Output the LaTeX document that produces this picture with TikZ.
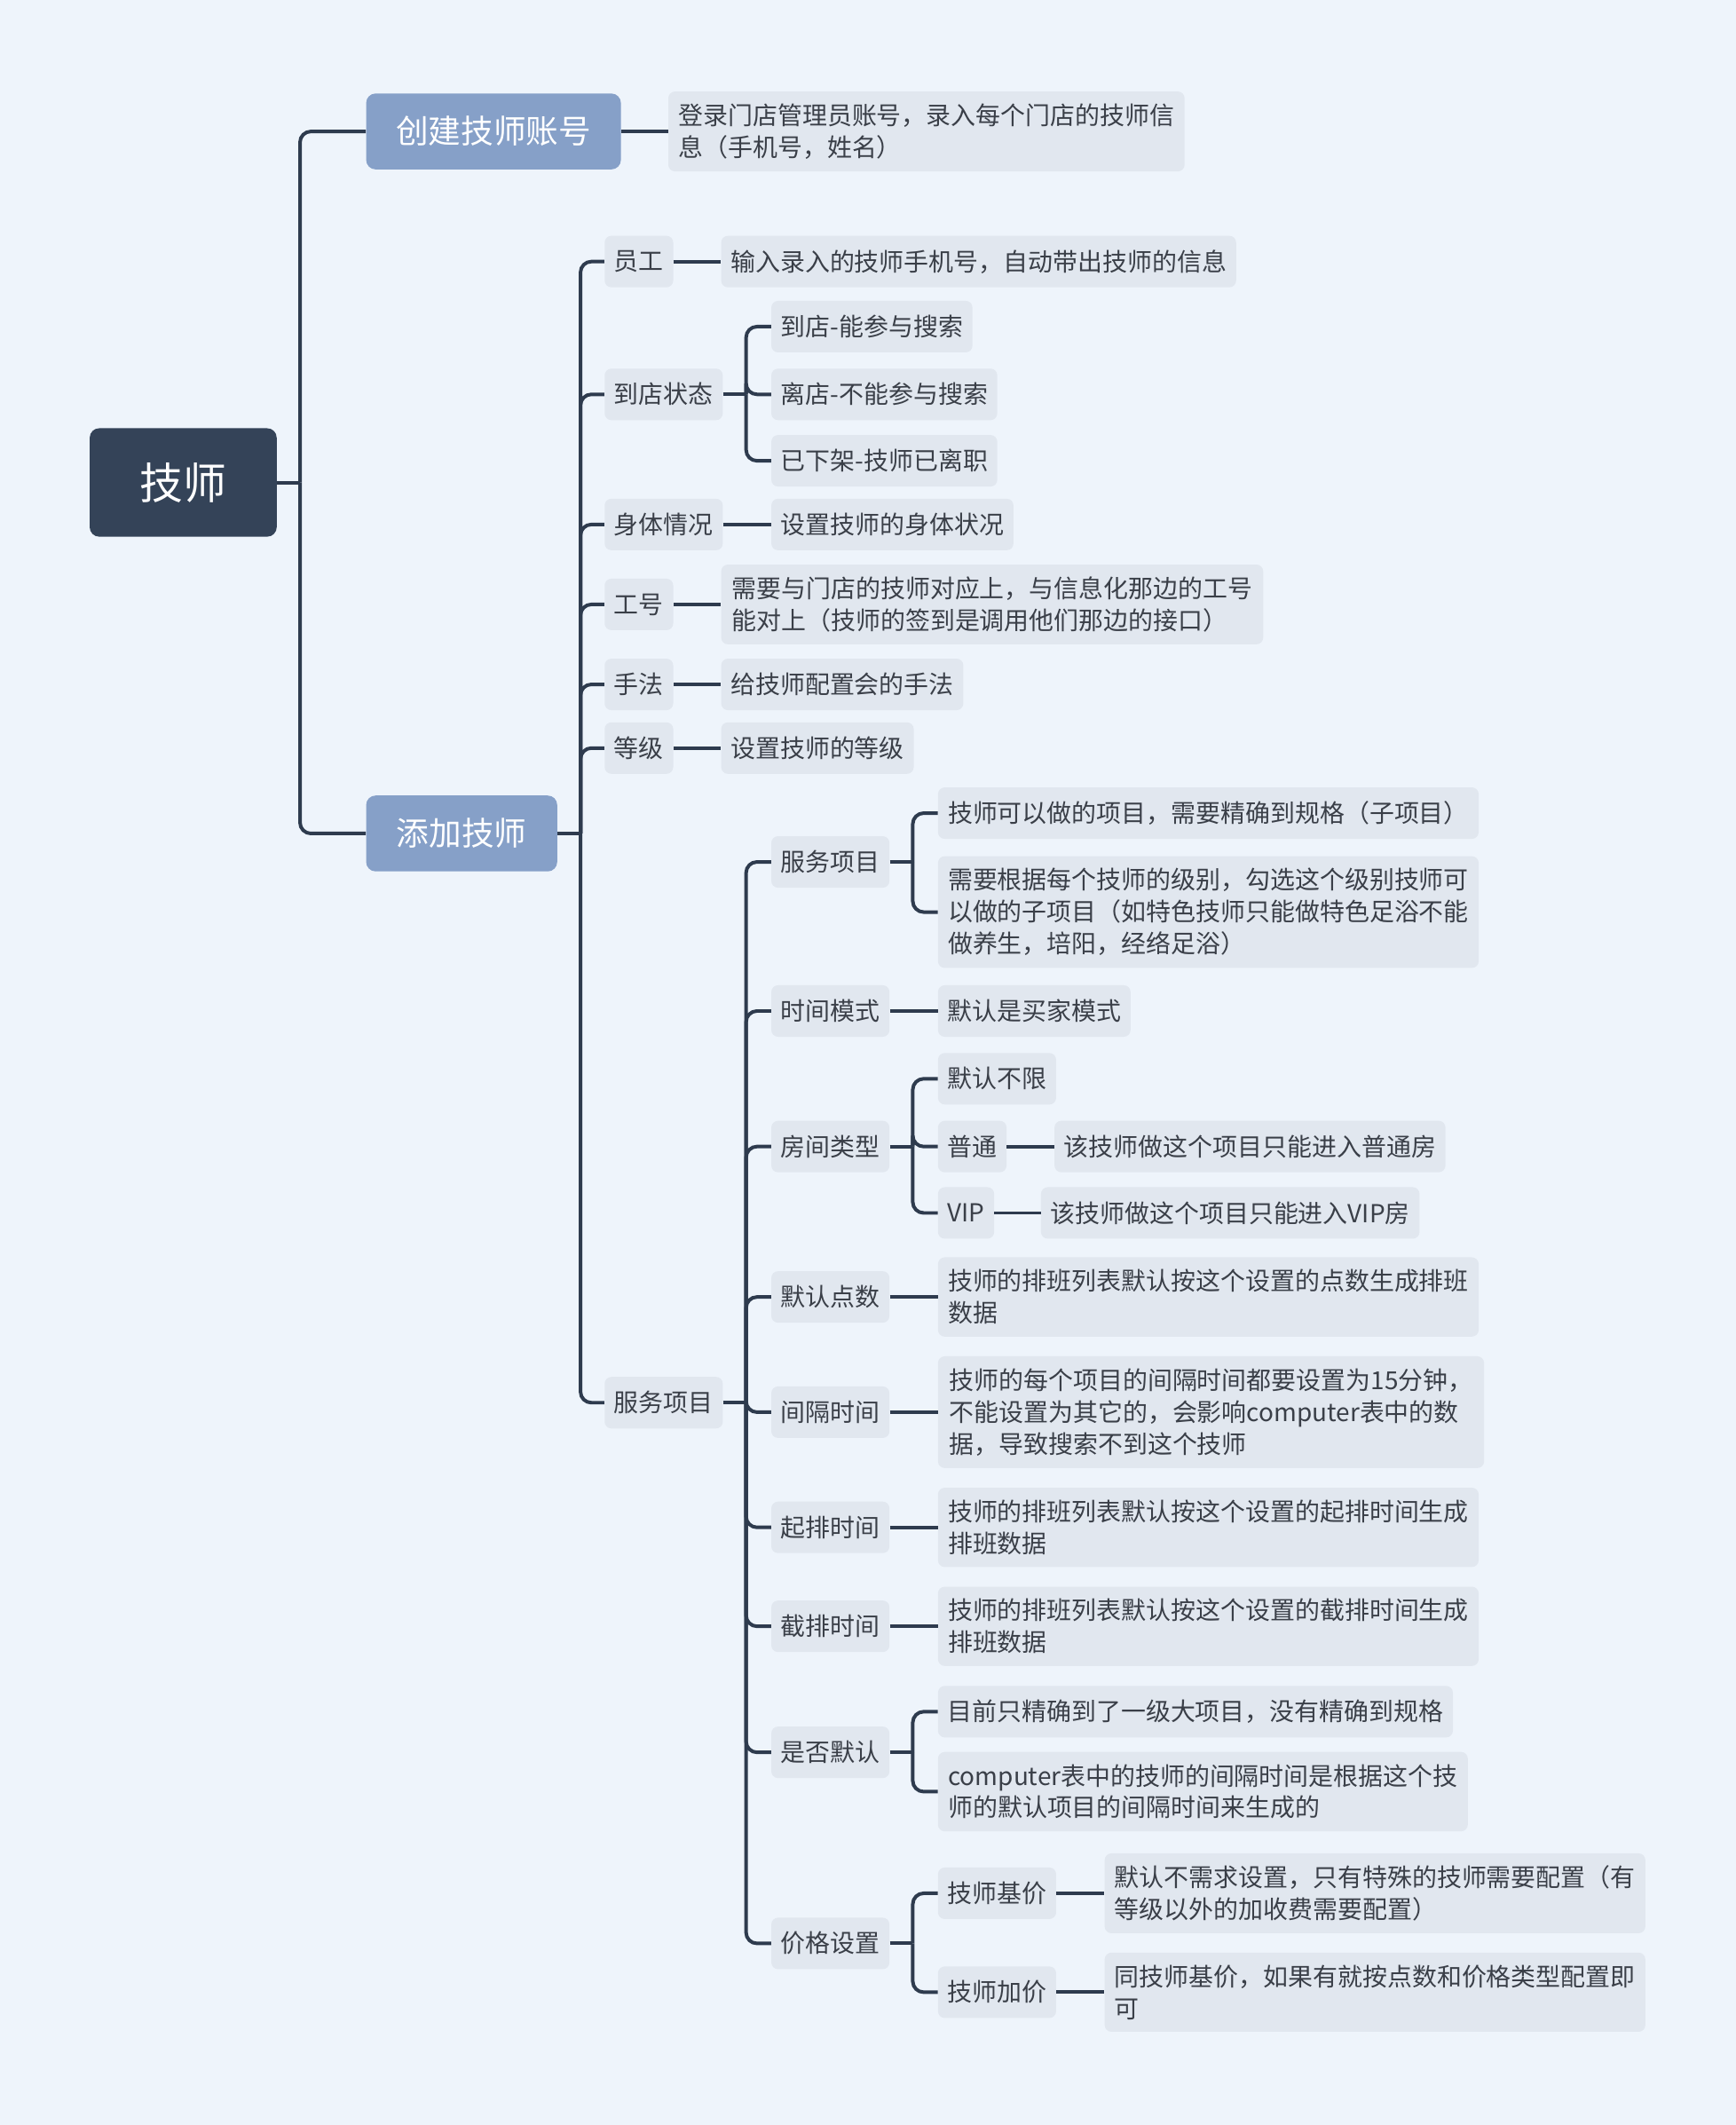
\documentclass[tikz,border=0pt]{standalone}
\usepackage{fontspec}
\setmainfont{Noto Sans CJK SC}
\begin{document}
\begin{tikzpicture}[x=1pt,y=-1pt,
 conn/.style={draw=lc,line width=2.6pt,rounded corners=8pt},
 leaf/.style={anchor=west,fill=lf,rounded corners=5pt,text=tc,inner xsep=7pt,inner ysep=9pt,minimum height=38pt,font=\fontsize{18.3}{23.5}\selectfont,align=left},
 lone/.style={anchor=west,fill=lb,rounded corners=7pt,text=white,inner xsep=12pt,minimum height=56pt,font=\fontsize{24}{28}\selectfont}]
\definecolor{bg}{HTML}{EEF4FB}
\definecolor{lc}{HTML}{2E3B4E}
\definecolor{lf}{HTML}{E1E7EF}
\definecolor{lb}{HTML}{86A0C8}
\definecolor{tc}{HTML}{3A3F48}
\definecolor{rt}{HTML}{344358}
\fill[bg] (0,0) rectangle (1281,1568);
\useasboundingbox (0,0) rectangle (1281,1568);
\newcommand\bus[3]{\draw[conn] ([xshift=#3]#1.east) |- (#2.west);}
\newcommand\stub[2]{\draw[conn,rounded corners=0pt] (#1.east) -- ([xshift=#2]#1.east);}
\node[anchor=west,fill=rt,rounded corners=7pt,text=white,minimum width=138pt,minimum height=80pt,font=\fontsize{32}{36}\selectfont] (root) at (66,356) {技师};
\node[lone,minimum width=188pt] (a) at (270,97) {创建技师账号};
\node[lone,minimum width=141pt] (b) at (270,615) {添加技师};
\stub{root}{17}\bus{root}{a}{17}\bus{root}{b}{17}
\node[leaf,minimum width=381pt] (a1) at (493,97) {登录门店管理员账号，录入每个门店的技师信\\息（手机号，姓名）};
\draw[conn] (a.east) -- (a1.west);
% level 2
\node[leaf] (c1) at (446,193) {员工};
\node[leaf] (c2) at (446,291) {到店状态};
\node[leaf] (c3) at (446,387) {身体情况};
\node[leaf] (c4) at (446,446) {工号};
\node[leaf] (c5) at (446,505) {手法};
\node[leaf] (c6) at (446,552) {等级};
\node[leaf] (c7) at (446,1035) {服务项目};
\stub{b}{17}
\foreach \c in {c1,c2,c3,c4,c5,c6,c7}{\bus{b}{\c}{17}}
\node[leaf] (d1) at (532,193) {输入录入的技师手机号，自动带出技师的信息};
\draw[conn] (c1.east) -- (d1.west);
\node[leaf] (e1) at (569,241) {到店-能参与搜索};
\node[leaf] (e2) at (569,291) {离店-不能参与搜索};
\node[leaf] (e3) at (569,340) {已下架-技师已离职};
\stub{c2}{17}\bus{c2}{e1}{17}\bus{c2}{e2}{17}\bus{c2}{e3}{17}
\node[leaf] (d3) at (569,387) {设置技师的身体状况};
\draw[conn] (c3.east) -- (d3.west);
\node[leaf,minimum width=400pt] (d4) at (532,446) {需要与门店的技师对应上，与信息化那边的工号\\能对上（技师的签到是调用他们那边的接口）};
\draw[conn] (c4.east) -- (d4.west);
\node[leaf] (d5) at (532,505) {给技师配置会的手法};
\draw[conn] (c5.east) -- (d5.west);
\node[leaf] (d6) at (532,552) {设置技师的等级};
\draw[conn] (c6.east) -- (d6.west);
% level 3 under 服务项目
\node[leaf] (f1) at (569,636) {服务项目};
\node[leaf] (f2) at (569,746) {时间模式};
\node[leaf] (f3) at (569,846) {房间类型};
\node[leaf] (f4) at (569,957) {默认点数};
\node[leaf] (f5) at (569,1042) {间隔时间};
\node[leaf] (f6) at (569,1127) {起排时间};
\node[leaf] (f7) at (569,1200) {截排时间};
\node[leaf] (f8) at (569,1293) {是否默认};
\node[leaf] (f9) at (569,1434) {价格设置};
\stub{c7}{17}
\foreach \c in {f1,f2,f3,f4,f5,f6,f7,f8,f9}{\bus{c7}{\c}{17}}
\node[leaf,minimum width=399pt] (g1) at (692,600) {技师可以做的项目，需要精确到规格（子项目）};
\node[leaf,minimum width=399pt] (g2) at (692,673) {需要根据每个技师的级别，勾选这个级别技师可\\以做的子项目（如特色技师只能做特色足浴不能\\做养生，培阳，经络足浴）};
\stub{f1}{17}\bus{f1}{g1}{17}\bus{f1}{g2}{17}
\node[leaf] (g3) at (692,746) {默认是买家模式};
\draw[conn] (f2.east) -- (g3.west);
\node[leaf] (h1) at (692,796) {默认不限};
\node[leaf] (h2) at (692,846) {普通};
\node[leaf] (h3) at (692,895) {VIP};
\stub{f3}{17}\bus{f3}{h1}{17}\bus{f3}{h2}{17}\bus{f3}{h3}{17}
\node[leaf] (h2a) at (778,846) {该技师做这个项目只能进入普通房};
\draw[conn] (h2.east) -- (h2a.west);
\node[leaf] (h3a) at (768,895) {该技师做这个项目只能进入VIP房};
\draw[conn] (h3.east) -- (h3a.west);
\node[leaf,minimum width=399pt] (g4) at (692,957) {技师的排班列表默认按这个设置的点数生成排班\\数据};
\draw[conn] (f4.east) -- (g4.west);
\node[leaf,minimum width=403pt] (g5) at (692,1042) {技师的每个项目的间隔时间都要设置为15分钟，\\不能设置为其它的，会影响computer表中的数\\据，导致搜索不到这个技师};
\draw[conn] (f5.east) -- (g5.west);
\node[leaf,minimum width=399pt] (g6) at (692,1127) {技师的排班列表默认按这个设置的起排时间生成\\排班数据};
\draw[conn] (f6.east) -- (g6.west);
\node[leaf,minimum width=399pt] (g7) at (692,1200) {技师的排班列表默认按这个设置的截排时间生成\\排班数据};
\draw[conn] (f7.east) -- (g7.west);
\node[leaf] (g8) at (692,1263) {目前只精确到了一级大项目，没有精确到规格};
\node[leaf,minimum width=391pt] (g9) at (692,1322) {computer表中的技师的间隔时间是根据这个技\\师的默认项目的间隔时间来生成的};
\stub{f8}{17}\bus{f8}{g8}{17}\bus{f8}{g9}{17}
\node[leaf] (k1) at (692,1397) {技师基价};
\node[leaf] (k2) at (692,1470) {技师加价};
\stub{f9}{17}\bus{f9}{k1}{17}\bus{f9}{k2}{17}
\node[leaf,minimum width=399pt] (k1a) at (815,1397) {默认不需求设置，只有特殊的技师需要配置（有\\等级以外的加收费需要配置）};
\draw[conn] (k1.east) -- (k1a.west);
\node[leaf,minimum width=399pt] (k2a) at (815,1470) {同技师基价，如果有就按点数和价格类型配置即\\可};
\draw[conn] (k2.east) -- (k2a.west);
\end{tikzpicture}
\end{document}
